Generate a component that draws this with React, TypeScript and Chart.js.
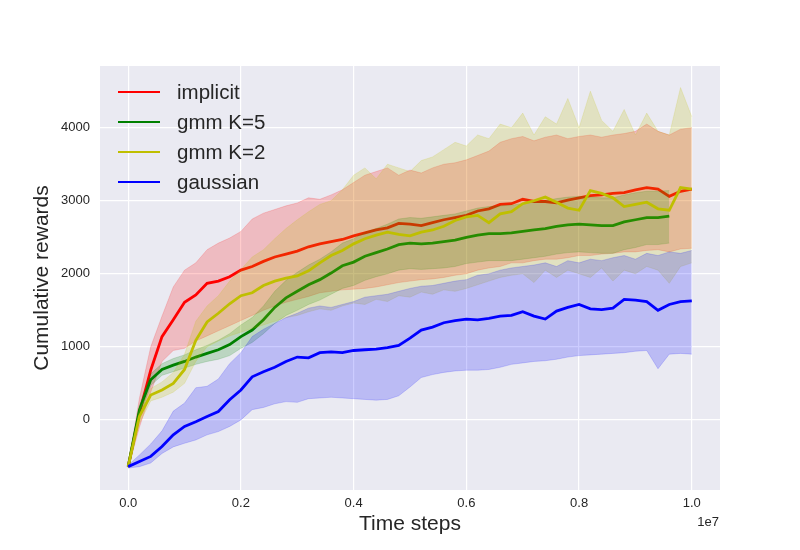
import { useEffect, useRef } from "react";
import { Chart, ChartConfiguration, registerables } from "chart.js";

Chart.register(...registerables);

// time steps, one sample every 2e5 steps
const steps = Array.from({ length: 51 }, (_, i) => i * 200000);

const implicitMean = [-640, 95, 680, 1140, 1370, 1610, 1710, 1870, 1900, 1960, 2050, 2100, 2170, 2230, 2270, 2310, 2370, 2410, 2440, 2470, 2520, 2560, 2600, 2630, 2690, 2680, 2660, 2700, 2740, 2770, 2800, 2860, 2890, 2950, 2960, 3020, 2990, 2990, 2970, 3010, 3040, 3070, 3080, 3100, 3110, 3150, 3180, 3160, 3060, 3130, 3160];
const implicitHigh = [-620, 300, 1000, 1420, 1820, 2050, 2150, 2330, 2420, 2490, 2580, 2750, 2830, 2880, 2930, 2970, 3040, 3020, 3080, 3150, 3250, 3350, 3400, 3450, 3350, 3420, 3380, 3450, 3500, 3520, 3560, 3620, 3680, 3800, 3850, 3880, 3820, 3870, 3900, 3850, 3880, 3900, 3870, 3900, 3920, 3950, 4050, 3950, 3900, 3980, 4000];
const implicitLow = [-660, -100, 380, 800, 950, 980, 1080, 1150, 1220, 1290, 1360, 1430, 1500, 1560, 1610, 1650, 1690, 1740, 1760, 1780, 1790, 1800, 1820, 1850, 1880, 1900, 1920, 1930, 1950, 1980, 2000, 2050, 2080, 2100, 2150, 2150, 2180, 2200, 2200, 2220, 2250, 2250, 2270, 2280, 2300, 2300, 2320, 2330, 2300, 2340, 2350];

const gmm5Mean = [-640, 137, 550, 690, 750, 800, 860, 910, 960, 1030, 1140, 1230, 1370, 1540, 1670, 1760, 1850, 1920, 2010, 2110, 2160, 2240, 2290, 2340, 2400, 2420, 2410, 2420, 2440, 2460, 2500, 2530, 2550, 2550, 2560, 2580, 2600, 2620, 2650, 2670, 2680, 2670, 2660, 2660, 2710, 2740, 2770, 2770, 2790];
const gmm5High = [-620, 200, 630, 770, 840, 890, 960, 1020, 1090, 1180, 1300, 1400, 1560, 1760, 1910, 2020, 2120, 2200, 2300, 2420, 2480, 2570, 2620, 2680, 2750, 2770, 2760, 2780, 2800, 2820, 2860, 2900, 2920, 2930, 2940, 2960, 2980, 3000, 3030, 3050, 3060, 3050, 3040, 3040, 3080, 3110, 3130, 3130, 3140];
const gmm5Low = [-660, 40, 470, 610, 660, 710, 760, 800, 830, 880, 980, 1060, 1180, 1320, 1430, 1500, 1580, 1640, 1720, 1800, 1840, 1910, 1960, 2000, 2050, 2070, 2060, 2070, 2080, 2100, 2140, 2160, 2180, 2180, 2180, 2200, 2220, 2240, 2270, 2290, 2300, 2290, 2280, 2280, 2330, 2360, 2400, 2400, 2420];

const gmm2Mean = [-640, 50, 340, 410, 500, 690, 1090, 1340, 1460, 1590, 1700, 1740, 1840, 1900, 1940, 1970, 2040, 2150, 2250, 2320, 2410, 2480, 2530, 2570, 2540, 2520, 2570, 2600, 2650, 2730, 2780, 2800, 2700, 2820, 2850, 2960, 3000, 3050, 2980, 2900, 2870, 3140, 3100, 3040, 2920, 2950, 2980, 2890, 2870, 3180, 3160];
const gmm2High = [-620, 150, 430, 520, 650, 900, 1350, 1560, 1700, 1900, 2060, 2230, 2330, 2480, 2620, 2740, 2850, 2950, 3000, 3150, 3350, 3450, 3300, 3500, 3450, 3400, 3550, 3600, 3700, 3800, 3750, 3900, 3850, 4050, 4000, 4200, 3900, 4150, 4050, 4400, 4000, 4500, 4100, 3950, 4250, 3900, 4200, 3950, 3900, 4550, 4150];
const gmm2Low = [-660, -50, 260, 310, 380, 500, 800, 1000, 1080, 1150, 1200, 1250, 1300, 1350, 1400, 1430, 1480, 1520, 1500, 1560, 1600, 1580, 1650, 1620, 1700, 1680, 1750, 1720, 1780, 1760, 1800, 1850, 1900, 1950, 1980, 2000, 1880, 2050, 1950, 2050, 2000, 1950, 2080, 1900, 2050, 2000, 2100, 2050, 1870, 2100, 2150];

const gaussMean = [-640, -570, -500, -365, -205, -90, -25, 45, 115, 275, 410, 590, 660, 720, 800, 860, 850, 920, 930, 920, 950, 960, 970, 990, 1020, 1120, 1230, 1270, 1330, 1360, 1380, 1370, 1390, 1420, 1430, 1480, 1420, 1380, 1490, 1540, 1580, 1520, 1510, 1530, 1650, 1640, 1620, 1500, 1580, 1620, 1630];
const gaussHigh = [-620, -480, -330, -150, 120, 230, 440, 460, 560, 770, 920, 1140, 1240, 1320, 1400, 1460, 1530, 1560, 1540, 1580, 1620, 1680, 1700, 1720, 1760, 1800, 1830, 1840, 1870, 1900, 1920, 1980, 2000, 2050, 2080, 2100, 2120, 2150, 2100, 2180, 2150, 2200, 2180, 2220, 2250, 2200, 2280, 2250, 2300, 2280, 2320];
const gaussLow = [-660, -640, -590, -460, -370, -320, -275, -205, -160, -90, 0, 140, 170, 220, 250, 240, 290, 300, 310, 300, 290, 280, 270, 280, 330, 450, 580, 620, 650, 670, 680, 680, 690, 720, 760, 780, 800, 810, 830, 860, 880, 890, 900, 910, 920, 940, 950, 700, 900, 910, 900];

const xTicks = [0, 2000000, 4000000, 6000000, 8000000, 10000000];
const yTicks = [0, 1000, 2000, 3000, 4000];

const series = [
  { label: "implicit", color: "#ff0000", fill: "rgba(255,0,0,0.2)", mean: implicitMean, high: implicitHigh, low: implicitLow },
  { label: "gmm K=5", color: "#008000", fill: "rgba(0,128,0,0.2)", mean: gmm5Mean, high: gmm5High, low: gmm5Low },
  { label: "gmm K=2", color: "#bfbf00", fill: "rgba(191,191,0,0.2)", mean: gmm2Mean, high: gmm2High, low: gmm2Low },
  { label: "gaussian", color: "#0000ff", fill: "rgba(0,0,255,0.2)", mean: gaussMean, high: gaussHigh, low: gaussLow },
];

const pts = (vals: number[]) => vals.map((v, i) => ({ x: steps[i], y: v }));

const FONT = "'Liberation Sans', Arial, sans-serif";
const TEXT = "#262626";

const plotBg = {
  id: "plotBg",
  beforeDraw(chart: Chart) {
    const { ctx, chartArea } = chart;
    ctx.save();
    ctx.fillStyle = "#eaeaf2";
    ctx.fillRect(chartArea.left, chartArea.top, chartArea.right - chartArea.left, chartArea.bottom - chartArea.top);
    ctx.restore();
  },
};

export default function App() {
  const canvasRef = useRef<HTMLCanvasElement>(null);
  const chartRef = useRef<Chart | null>(null);

  useEffect(() => {
    if (!canvasRef.current) return;
    if (chartRef.current) chartRef.current.destroy();

    const datasets: any[] = [];
    series.forEach((s) => {
      datasets.push({ label: s.label + " hi", data: pts(s.high), borderColor: s.fill, borderWidth: 0.8, backgroundColor: s.fill, fill: "+1", pointRadius: 0 });
      datasets.push({ label: s.label + " lo", data: pts(s.low), borderColor: s.fill, borderWidth: 0.8, fill: false, pointRadius: 0 });
      datasets.push({ label: s.label, data: pts(s.mean), borderColor: s.color, borderWidth: 2.8, fill: false, pointRadius: 0 });
    });
    // first dataset drawn first (bottom), later ones on top
    datasets.forEach((d, i) => (d.order = datasets.length - i));

    const config: ChartConfiguration = {
      type: "line",
      data: { datasets },
      plugins: [plotBg],
      options: {
        responsive: false,
        animation: false,
        layout: { padding: { top: 66, right: 80, left: 0, bottom: 0 } },
        plugins: { legend: { display: false }, tooltip: { enabled: false } },
        scales: {
          x: {
            type: "linear",
            min: -500000,
            max: 10500000,
            afterBuildTicks: (scale: any) => {
              scale.ticks = xTicks.map((v) => ({ value: v }));
            },
            afterFit: (scale: any) => {
              scale.height = 60;
            },
            grid: { color: "#ffffff", lineWidth: 1.2, drawTicks: false },
            border: { display: false },
            ticks: {
              padding: 6,
              color: TEXT,
              font: { family: FONT, size: 13 },
              callback: (v: any) => (Number(v) / 1e7).toFixed(1),
            },
            title: {
              display: true,
              text: "Time steps",
              color: TEXT,
              font: { family: FONT, size: 21 },
              padding: { top: 0, bottom: 13 },
            },
          },
          y: {
            type: "linear",
            min: -960,
            max: 4845,
            afterBuildTicks: (scale: any) => {
              scale.ticks = yTicks.map((v) => ({ value: v }));
            },
            afterFit: (scale: any) => {
              scale.width = 100;
            },
            grid: { color: "#ffffff", lineWidth: 1.2, drawTicks: false },
            border: { display: false },
            ticks: {
              padding: 10,
              color: TEXT,
              font: { family: FONT, size: 13 },
              callback: (v: any) => String(v),
            },
            title: {
              display: true,
              text: "Cumulative rewards",
              color: TEXT,
              font: { family: FONT, size: 21 },
              padding: { top: 30, bottom: 0 },
            },
          },
        },
      },
    };

    chartRef.current = new Chart(canvasRef.current, config);
    return () => {
      if (chartRef.current) chartRef.current.destroy();
      chartRef.current = null;
    };
  }, []);

  return (
    <div style={{ position: "absolute", left: 0, top: 0, width: 800, height: 550, background: "#fff", fontFamily: FONT }}>
      <canvas ref={canvasRef} width={800} height={550} />
      {/* legend */}
      {series.map((s, i) => (
        <div key={s.label}>
          <div style={{ position: "absolute", left: 118, top: 91 + i * 30, width: 42, height: 2, background: s.color }} />
          <span style={{ position: "absolute", left: 177, top: 77 + i * 30, fontSize: 20.5, color: TEXT, lineHeight: "30px" }}>{s.label}</span>
        </div>
      ))}
      <span style={{ position: "absolute", right: 81, top: 514, fontSize: 13, color: TEXT }}>1e7</span>
    </div>
  );
}
